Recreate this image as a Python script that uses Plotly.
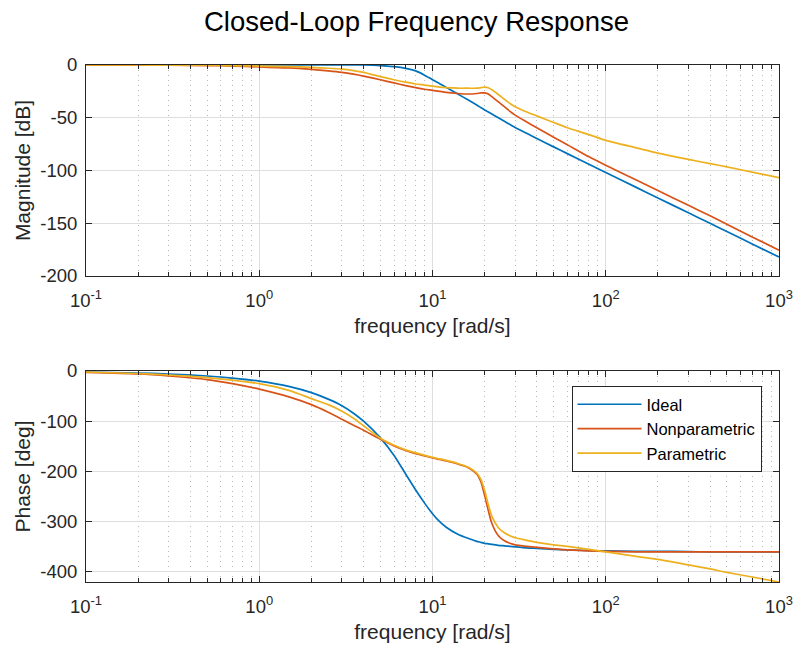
import plotly.graph_objects as go

# frequency grid [rad/s]
FREQ = [0.1, 0.2, 0.3, 0.5, 0.7, 1, 1.5, 2, 2.5, 3, 3.5, 4, 5, 6, 7, 8, 9, 10, 11, 12,
        14, 16, 18, 19, 20, 21, 22, 24, 26, 28, 30, 35, 40, 50, 60, 80, 100, 150, 200,
        300, 400, 500, 700, 1000]

IDEAL_MAG = [0, 0, 0, 0, 0, 0, 0, 0, 0, 0, 0, 0, -0.5, -1.6, -3.2, -5.6, -9.6, -14,
             -17.7, -21.2, -27.5, -33, -37.9, -40.3, -42.6, -44.6, -46.5, -50.1, -53.4,
             -56.4, -59.2, -64.8, -69.6, -77.6, -84, -94.1, -101.9, -116, -126, -140.1,
             -150.1, -157.9, -169.6, -182]
NONPARAM_MAG = [0, -0.1, -0.2, -0.5, -1, -1.8, -2.8, -4.2, -5.6, -7, -8.7, -10.5, -14,
                -17, -19.5, -21.5, -23, -24, -25, -26, -27, -27.5, -27, -26.5, -26.5,
                -27.5, -30, -35, -39.5, -44, -47.5, -54, -59.5, -68.5, -75.5, -87, -95,
                -109, -119, -133, -143, -151, -163, -175.5]
PARAM_MAG = [0, 0, -0.1, -0.2, -0.5, -1, -1.5, -2.3, -3.1, -4, -5.4, -7, -11, -14, -16.3,
             -18, -19, -20, -21, -21.5, -22, -22, -22, -21.5, -21, -21.5, -23.5, -28,
             -32.5, -36.5, -39.5, -44.5, -48.2, -54.5, -59.5, -66, -71.5, -78.5, -83.5,
             -89.5, -93.5, -96.5, -101.5, -106.8]

IDEAL_PH = [-2, -4, -6, -10, -14, -20, -31, -43, -56, -69, -84, -100, -133, -168, -205,
            -237, -263, -284, -300, -311, -325, -333, -339, -341, -343, -344, -345, -347,
            -348, -349, -350, -352, -353, -355, -356, -357.5, -358, -359, -359, -359.5,
            -360, -360, -360, -360]
NONPARAM_PH = [-3, -6, -10, -17, -25, -36, -52, -67, -82, -96, -108, -118, -136, -149,
               -158, -164.5, -169, -173, -176, -179, -185, -192, -205, -220, -248, -278,
               -303, -328, -338, -343, -346, -349, -351, -354, -356, -358, -359, -360,
               -360, -360, -360, -360, -360, -360]
PARAM_PH = [-2, -5, -8, -13, -18, -25, -39, -55, -67, -80, -94, -109, -134, -148, -157,
            -163, -168, -172, -175, -178, -184, -191, -203, -215, -238, -266, -289, -312,
            -322, -328, -332, -337, -341, -346, -349, -355, -360, -369, -375, -386, -394,
            -401, -410, -420]

NAMES = ["Ideal", "Nonparametric", "Parametric"]
COLORS = ["#0072BD", "#D95319", "#EDB120"]
MAGS = [IDEAL_MAG, NONPARAM_MAG, PARAM_MAG]
PHASES = [IDEAL_PH, NONPARAM_PH, PARAM_PH]

X_TICKVALS = [0.1, 1, 10, 100, 1000]
X_TICKTEXT = ["10<sup>-1</sup>", "10<sup>0</sup>", "10<sup>1</sup>", "10<sup>2</sup>", "10<sup>3</sup>"]
MAG_TICKS = [-200, -150, -100, -50, 0]
PH_TICKS = [-400, -300, -200, -100, 0]

FONT = "Liberation Sans, Arial, Helvetica, sans-serif"
AX = "#262626"

fig = go.Figure()
for name, col, mag, ph in zip(NAMES, COLORS, MAGS, PHASES):
    fig.add_trace(go.Scatter(x=FREQ, y=mag, mode="lines", name=name, showlegend=False,
                             line=dict(color=col, width=1.7, shape="spline", smoothing=0.6),
                             xaxis="x", yaxis="y"))
    fig.add_trace(go.Scatter(x=FREQ, y=ph, mode="lines", name=name, showlegend=True,
                             line=dict(color=col, width=1.7, shape="spline", smoothing=0.6),
                             xaxis="x2", yaxis="y2"))

minor_vals = [m * 10 ** d for d in range(-1, 3) for m in range(2, 10)]


def xaxis_cfg(anchor):
    return dict(
        type="log", range=[-1, 3], anchor=anchor, domain=[0, 1],
        tickmode="array", tickvals=X_TICKVALS, ticktext=X_TICKTEXT,
        ticks="inside", ticklen=6, tickcolor=AX, showline=True, linecolor=AX,
        linewidth=1, mirror="allticks", showgrid=True, gridcolor="#dedede",
        gridwidth=1, zeroline=False, ticklabelstandoff=8,
        tickfont=dict(family=FONT, size=18.5, color=AX),
        title=dict(text="frequency [rad/s]", font=dict(family=FONT, size=21, color=AX),
                   standoff=8),
        minor=dict(tickmode="array", tickvals=minor_vals, ticks="inside", ticklen=4,
                   tickcolor=AX, showgrid=True, gridcolor="#b8b8b8",
                   griddash="1px,4px", gridwidth=1),
    )


def yaxis_cfg(anchor, domain, rng, ticks, title):
    return dict(
        anchor=anchor, domain=domain, range=rng, tickmode="array", tickvals=ticks,
        ticktext=[str(t) for t in ticks], ticks="inside", ticklen=6, tickcolor=AX,
        showline=True, linecolor=AX, linewidth=1, mirror="allticks", showgrid=True,
        gridcolor="#dedede", gridwidth=1, zeroline=False, ticklabelstandoff=4,
        tickfont=dict(family=FONT, size=18.5, color=AX),
        title=dict(text=title, font=dict(family=FONT, size=21, color=AX), standoff=3),
    )


fig.update_layout(
    width=801, height=653,
    margin=dict(l=86, r=22, t=65, b=71, autoexpand=False),
    paper_bgcolor="white", plot_bgcolor="white",
    font=dict(family=FONT, color=AX),
    title=dict(text="Closed-Loop Frequency Response", x=416.5 / 801, xref="container",
               xanchor="center", y=1 - 21 / 653, yref="container", yanchor="middle",
               font=dict(family=FONT, size=27.5, color="#000000")),
    xaxis=xaxis_cfg("y"),
    yaxis=yaxis_cfg("x", [306 / 517, 1], [-200, 0], MAG_TICKS, "Magnitude [dB]"),
    xaxis2=xaxis_cfg("y2"),
    yaxis2=yaxis_cfg("x2", [0, 211 / 517], [-420, 0], PH_TICKS, "Phase [deg]"),
    legend=dict(x=(761.5 - 86) / 693, xanchor="right", y=(582 - 386) / 517, yanchor="top",
                bgcolor="white", bordercolor=AX, borderwidth=1,
                font=dict(family=FONT, size=16.5, color="#000000"), itemwidth=64,
                tracegroupgap=0),
    showlegend=True,
)

fig.write_html("out.html")
